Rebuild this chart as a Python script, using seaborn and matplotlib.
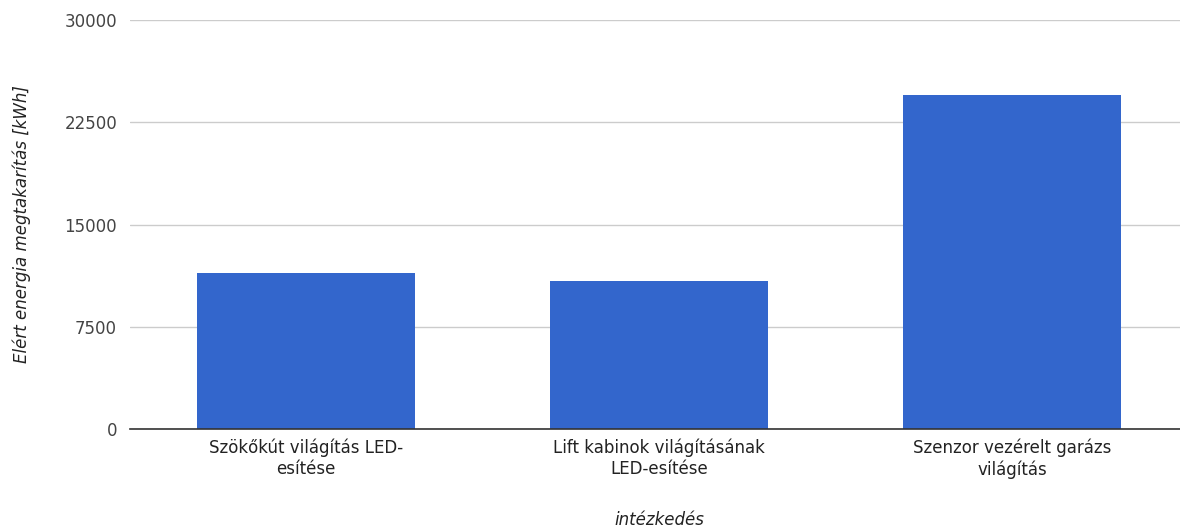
import matplotlib
matplotlib.use("Agg")
import matplotlib.pyplot as plt
import seaborn as sns
import pandas as pd

# adatok
intezkedesek = ["Szökőkút világítás LED-\nesítése",
                "Lift kabinok világításának\nLED-esítése",
                "Szenzor vezérelt garázs\nvilágítás"]
megtakaritas = [11450, 10850, 24500]
y_ticks = [0, 7500, 15000, 22500, 30000]

df = pd.DataFrame({"intezkedes": intezkedesek, "kwh": megtakaritas})

sns.set_style("white")
plt.rcParams['font.family'] = ['DejaVu Sans']

fig = plt.figure(figsize=(11.8, 5.27), dpi=100)
ax = fig.add_axes([129.5 / 1180, (527 - 429) / 527, 1059 / 1180, 409 / 527])

sns.barplot(data=df, x="intezkedes", y="kwh", color="#3366cc",
            saturation=1, width=0.618, linewidth=0, ax=ax, zorder=3)

ax.set_ylim(0, 30000)
ax.set_xlim(-0.5, 2.5)
ax.set_yticks(y_ticks)
ax.set_yticklabels([str(t) for t in y_ticks], fontsize=12, color="#444444")
ax.tick_params(axis="x", labelsize=12, labelcolor="#222222", length=0, pad=7)
ax.tick_params(axis="y", length=0, pad=9)
ax.yaxis.grid(True, color="#cccccc", linewidth=1, zorder=0)
for s in ["top", "right", "left"]:
    ax.spines[s].set_visible(False)
ax.spines["bottom"].set_color("#333333")
ax.spines["bottom"].set_linewidth(1.2)
ax.spines["bottom"].set_zorder(4)

ax.set_xlabel("intézkedés", fontsize=12, style="italic", color="#222222", labelpad=23)
ax.set_ylabel("Elért energia megtakarítás [kWh]", fontsize=12, style="italic",
              color="#222222", labelpad=24)

fig.savefig("out.png", dpi=100)
